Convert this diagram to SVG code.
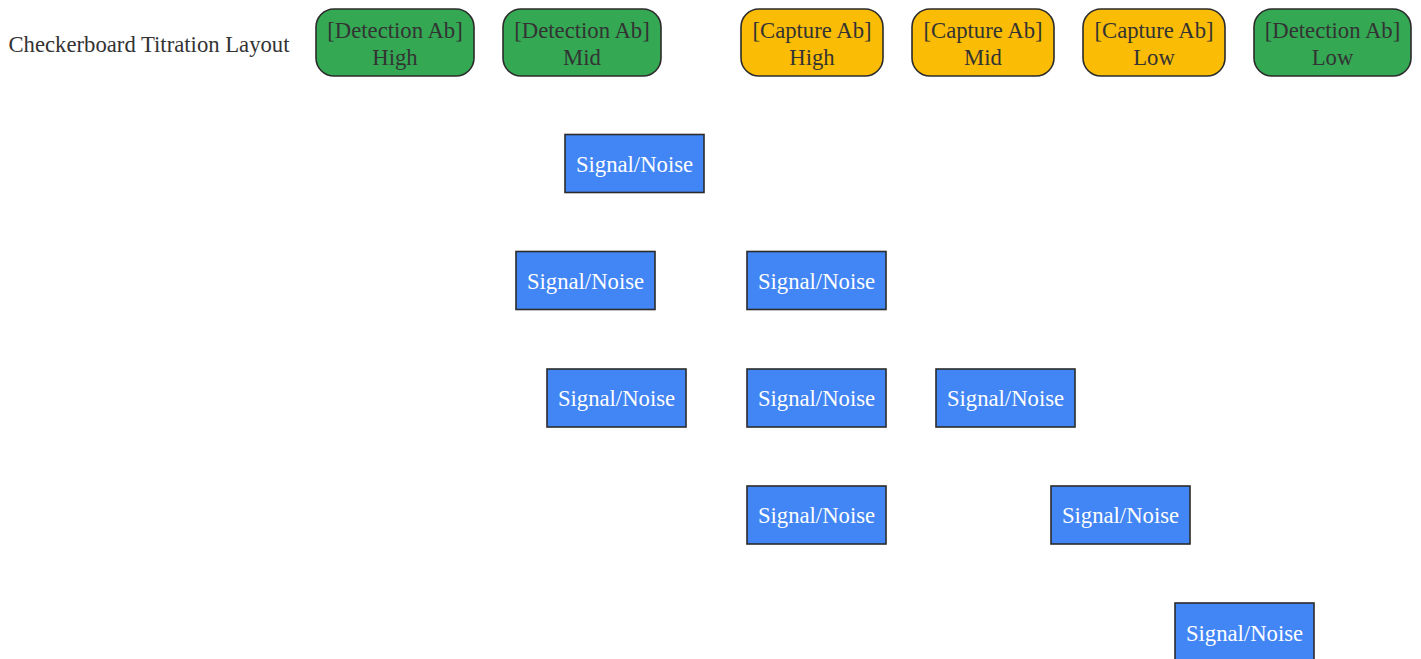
<svg xmlns="http://www.w3.org/2000/svg" width="1421" height="659" viewBox="0 0 1421 659">
<style>
text{font-family:"Liberation Serif","Times New Roman",serif;font-size:22.7px;text-anchor:middle}
.g{fill:#34A853;stroke:#2b2b2b;stroke-width:1.6}
.y{fill:#FBBC05;stroke:#2b2b2b;stroke-width:1.6}
.b{fill:#4285F4;stroke:#2b2b2b;stroke-width:1.6}
.dk{fill:#333}
.wt{fill:#fff}
</style>
<rect width="1421" height="659" fill="#fff"/>
<text x="149" y="51.5" class="dk">Checkerboard Titration Layout</text>
<g id="det-high"><rect class="g" x="316" y="9" width="158" height="67" rx="18"/><text class="dk" x="395" y="37.5">[Detection Ab]</text><text class="dk" x="395" y="64.5">High</text></g>
<g id="det-mid"><rect class="g" x="503" y="9" width="158" height="67" rx="18"/><text class="dk" x="582" y="37.5">[Detection Ab]</text><text class="dk" x="582" y="64.5">Mid</text></g>
<g id="cap-high"><rect class="y" x="741" y="9" width="142" height="67" rx="18"/><text class="dk" x="812" y="37.5">[Capture Ab]</text><text class="dk" x="812" y="64.5">High</text></g>
<g id="cap-mid"><rect class="y" x="912" y="9" width="142" height="67" rx="18"/><text class="dk" x="983" y="37.5">[Capture Ab]</text><text class="dk" x="983" y="64.5">Mid</text></g>
<g id="cap-low"><rect class="y" x="1083" y="9" width="142" height="67" rx="18"/><text class="dk" x="1154" y="37.5">[Capture Ab]</text><text class="dk" x="1154" y="64.5">Low</text></g>
<g id="det-low"><rect class="g" x="1254" y="9" width="157" height="67" rx="18"/><text class="dk" x="1332.5" y="37.5">[Detection Ab]</text><text class="dk" x="1332.5" y="64.5">Low</text></g>
<g id="connectors"></g>
<g id="sn1"><rect class="b" x="565" y="134.5" width="139" height="58"/><text class="wt" x="634.5" y="172">Signal/Noise</text></g>
<g id="sn2"><rect class="b" x="516" y="251.5" width="139" height="58"/><text class="wt" x="585.5" y="289">Signal/Noise</text></g>
<g id="sn3"><rect class="b" x="747" y="251.5" width="139" height="58"/><text class="wt" x="816.5" y="289">Signal/Noise</text></g>
<g id="sn4"><rect class="b" x="547" y="369" width="139" height="58"/><text class="wt" x="616.5" y="406">Signal/Noise</text></g>
<g id="sn5"><rect class="b" x="747" y="369" width="139" height="58"/><text class="wt" x="816.5" y="406">Signal/Noise</text></g>
<g id="sn6"><rect class="b" x="936" y="369" width="139" height="58"/><text class="wt" x="1005.5" y="406">Signal/Noise</text></g>
<g id="sn7"><rect class="b" x="747" y="486" width="139" height="58"/><text class="wt" x="816.5" y="523">Signal/Noise</text></g>
<g id="sn8"><rect class="b" x="1051" y="486" width="139" height="58"/><text class="wt" x="1120.5" y="523">Signal/Noise</text></g>
<g id="sn9"><rect class="b" x="1175" y="603" width="139" height="58"/><text class="wt" x="1244.5" y="641">Signal/Noise</text></g>
</svg>
